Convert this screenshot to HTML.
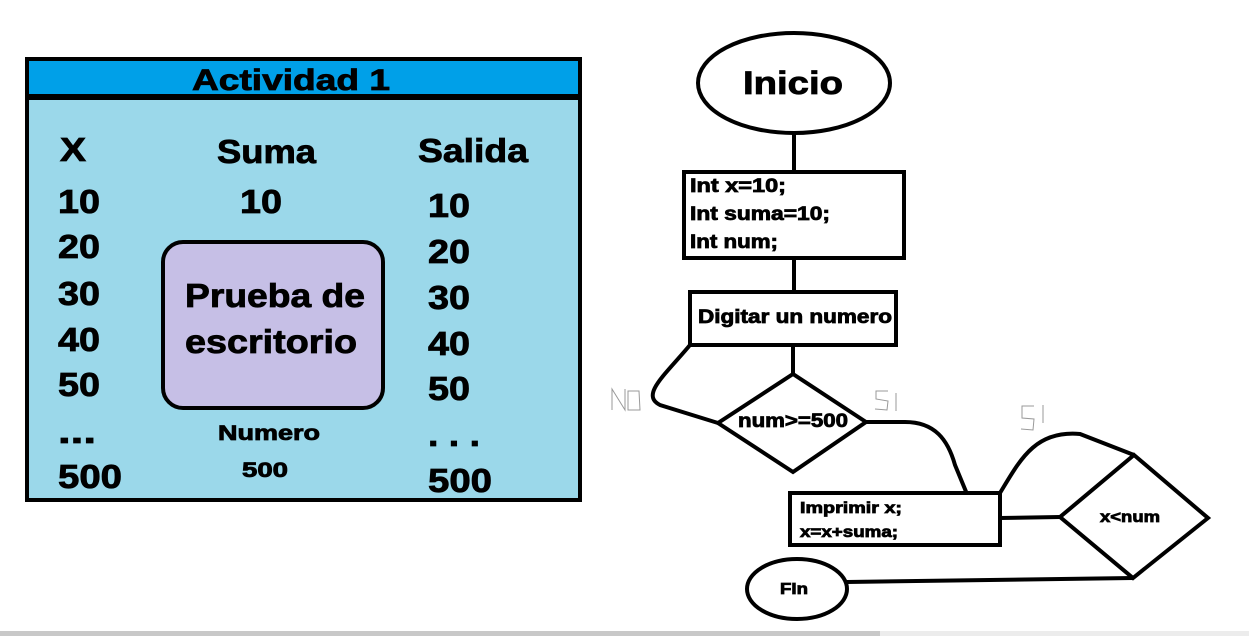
<!DOCTYPE html>
<html><head><meta charset="utf-8"><style>
html,body{margin:0;padding:0;background:#fff;width:1249px;height:636px;overflow:hidden}
svg{display:block}
text{font-family:"Liberation Sans",Arial,sans-serif;font-weight:bold;fill:#000;stroke:#000;stroke-width:0.8}
</style></head><body>
<svg width="1249" height="636" viewBox="0 0 1249 636">
<rect x="0" y="0" width="1249" height="636" fill="#fff"/>
<!-- left panel -->
<rect x="27" y="59" width="553" height="441" fill="#9bd8ea" stroke="#000" stroke-width="4"/>
<rect x="29" y="61" width="549" height="33" fill="#00a0e8"/>
<rect x="29" y="94" width="549" height="6" fill="#000"/>
<text x="192" y="90" font-size="30" textLength="198" lengthAdjust="spacingAndGlyphs">Actividad 1</text>
<g font-size="33" lengthAdjust="spacingAndGlyphs">
<text x="60" y="161" textLength="26" lengthAdjust="spacingAndGlyphs">X</text>
<text x="217" y="163" textLength="99" lengthAdjust="spacingAndGlyphs">Suma</text>
<text x="418" y="162" textLength="110" lengthAdjust="spacingAndGlyphs">Salida</text>
<text x="58" y="213" textLength="42" lengthAdjust="spacingAndGlyphs">10</text>
<text x="58" y="258" textLength="42" lengthAdjust="spacingAndGlyphs">20</text>
<text x="58" y="305" textLength="42" lengthAdjust="spacingAndGlyphs">30</text>
<text x="58" y="351" textLength="42" lengthAdjust="spacingAndGlyphs">40</text>
<text x="58" y="396" textLength="42" lengthAdjust="spacingAndGlyphs">50</text>
<text x="58" y="443" textLength="38" lengthAdjust="spacingAndGlyphs">...</text>
<text x="58" y="488" textLength="64" lengthAdjust="spacingAndGlyphs">500</text>
<text x="240" y="213" textLength="42" lengthAdjust="spacingAndGlyphs">10</text>
<text x="428" y="217" textLength="42" lengthAdjust="spacingAndGlyphs">10</text>
<text x="428" y="263" textLength="42" lengthAdjust="spacingAndGlyphs">20</text>
<text x="428" y="309" textLength="42" lengthAdjust="spacingAndGlyphs">30</text>
<text x="428" y="355" textLength="42" lengthAdjust="spacingAndGlyphs">40</text>
<text x="428" y="400" textLength="42" lengthAdjust="spacingAndGlyphs">50</text>
<text x="428" y="446" textLength="52" lengthAdjust="spacingAndGlyphs">. . .</text>
<text x="428" y="492" textLength="64" lengthAdjust="spacingAndGlyphs">500</text>
</g>
<rect x="163" y="242" width="220" height="166" rx="20" fill="#c6bfe6" stroke="#000" stroke-width="4"/>
<text x="185" y="307" font-size="33" textLength="180" lengthAdjust="spacingAndGlyphs">Prueba de</text>
<text x="185" y="353" font-size="33" textLength="172" lengthAdjust="spacingAndGlyphs">escritorio</text>
<text x="218" y="440" font-size="21" textLength="102" lengthAdjust="spacingAndGlyphs">Numero</text>
<text x="242" y="477" font-size="21" textLength="46" lengthAdjust="spacingAndGlyphs">500</text>
<!-- flowchart -->
<g fill="none" stroke="#000" stroke-width="4">
<ellipse cx="794" cy="83" rx="96" ry="50" fill="#fff"/>
<line x1="794" y1="133" x2="794" y2="172"/>
<rect x="684" y="172" width="220" height="86"/>
<line x1="794" y1="258" x2="794" y2="292"/>
<rect x="690" y="292" width="206" height="53"/>
<line x1="793" y1="345" x2="793" y2="373"/>
<polygon points="793,374 866,422 793,472 718,423"/>
<path d="M690,345 C665,375 640,395 660,405 L718,423"/>
<path d="M866,422 L905,422 C935,422 948,440 955,465 L967,494"/>
<rect x="790" y="493" width="210" height="52"/>
<line x1="1000" y1="518" x2="1060" y2="517"/>
<polygon points="1134,455 1208,518 1133,578 1060,517"/>
<path d="M1000,493 C1020,460 1035,430 1080,434 L1134,455"/>
<ellipse cx="797" cy="589" rx="50" ry="30"/>
<line x1="847" y1="582" x2="1133" y2="578"/>
</g>
<text x="743" y="94" font-size="32" textLength="100" lengthAdjust="spacingAndGlyphs">Inicio</text>
<g font-size="19" style="stroke-width:0.5">
<text x="690" y="192" textLength="96" lengthAdjust="spacingAndGlyphs">Int x=10;</text>
<text x="690" y="220" textLength="140" lengthAdjust="spacingAndGlyphs">Int suma=10;</text>
<text x="690" y="248" textLength="88" lengthAdjust="spacingAndGlyphs">Int num;</text>
<text x="698" y="323" textLength="194" lengthAdjust="spacingAndGlyphs">Digitar un numero</text>
<text x="738" y="427" textLength="110" lengthAdjust="spacingAndGlyphs">num&gt;=500</text>
</g>
<g font-size="16" style="stroke-width:0.4">
<text x="800" y="513" textLength="102" lengthAdjust="spacingAndGlyphs">Imprimir x;</text>
<text x="800" y="537" textLength="98" lengthAdjust="spacingAndGlyphs">x=x+suma;</text>
<text x="1100" y="522" textLength="60" lengthAdjust="spacingAndGlyphs">x&lt;num</text>
<text x="780" y="594" textLength="28" lengthAdjust="spacingAndGlyphs">FIn</text>
</g>
<g fill="none" stroke="#999" stroke-width="1">
<path d="M612,410 L612,389 L625,410 L625,389 M628,391 L639,391 L640,410 L628,410 Z"/>
<path d="M888,391 L876,391 L876,399 L888,401 L887,410 L875,409 M896,393 L896,411"/>
<path d="M1034,406 L1022,406 L1022,418 L1034,419 L1033,430 L1021,429 M1043,405 L1043,423"/>
</g>
<rect x="0" y="631" width="880" height="5" fill="#c8c8c8"/>
<rect x="880" y="631" width="369" height="5" fill="#ececec"/>
</svg>
</body></html>
